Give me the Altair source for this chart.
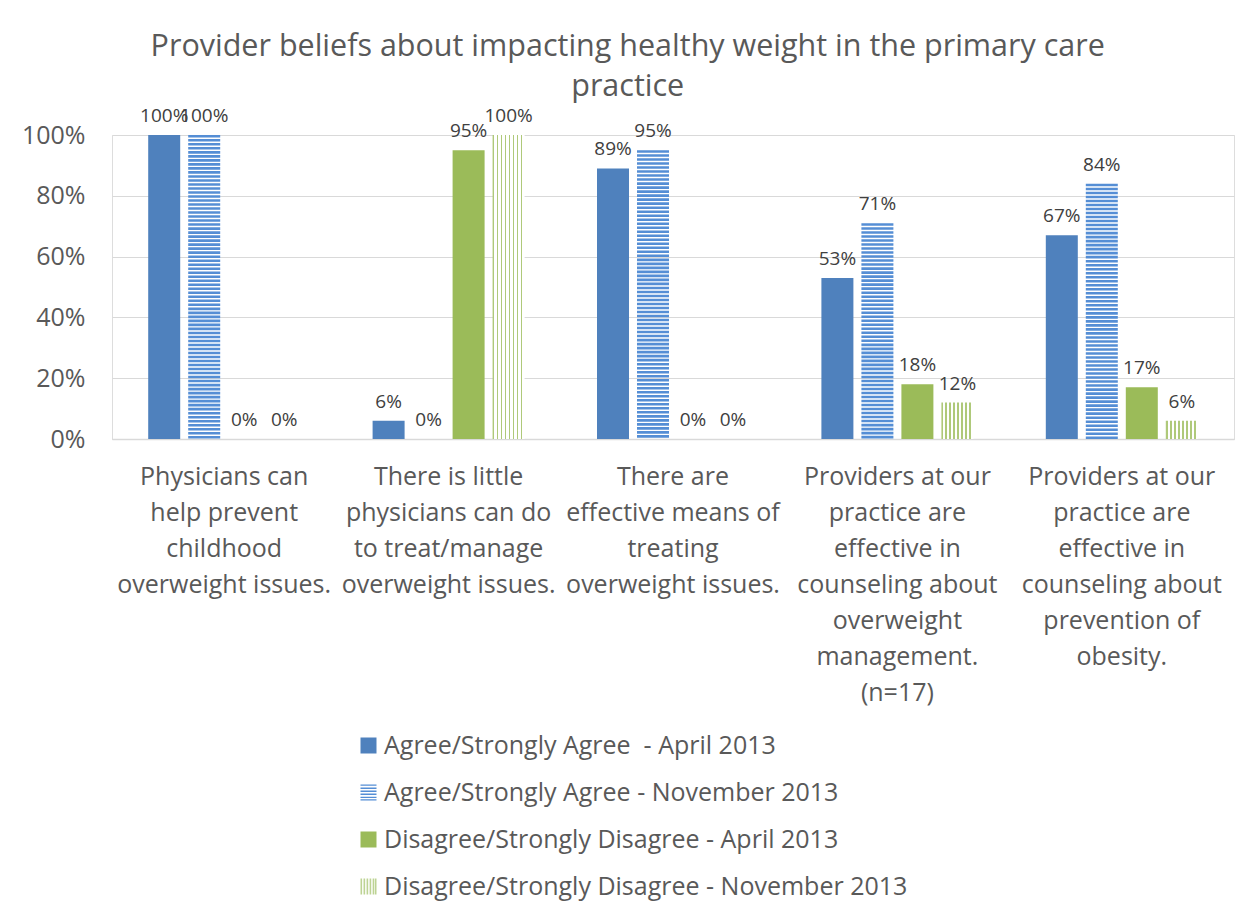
import altair as alt
import pandas as pd

categories = [
    "Physicians can\nhelp prevent\nchildhood\noverweight issues.",
    "There is little\nphysicians can do\nto treat/manage\noverweight issues.",
    "There are\neffective means of\ntreating\noverweight issues.",
    "Providers at our\npractice are\neffective in\ncounseling about\noverweight\nmanagement.\n(n=17)",
    "Providers at our\npractice are\neffective in\ncounseling about\nprevention of\nobesity.",
]
series = [
    "Agree/Strongly Agree \u00a0- April 2013",
    "Agree/Strongly Agree - November 2013",
    "Disagree/Strongly Disagree - April 2013",
    "Disagree/Strongly Disagree - November 2013",
]
agree_apr = [1.00, 0.06, 0.89, 0.53, 0.67]
agree_nov = [1.00, 0.00, 0.95, 0.71, 0.84]
disagree_apr = [0.00, 0.95, 0.00, 0.18, 0.17]
disagree_nov = [0.00, 1.00, 0.00, 0.12, 0.06]

colors = ["#4F81BD", "#558ED5", "#9BBB59", "#BDD394"]

rows = []
for s, vals in zip(series, [agree_apr, agree_nov, disagree_apr, disagree_nov]):
    for c, v in zip(categories, vals):
        rows.append({"category": c, "series": s, "value": v, "label": f"{round(v*100)}%"})
df = pd.DataFrame(rows)

FONT = "Open Sans"
TXT = "#595959"
AX_FS = 25

# legend symbol paths (unit square -1..1)
sq = "M-1,-1H1V1H-1Z"
hstripes = "".join(
    f"M-1,{y:.3f}H1V{y+0.17:.3f}H-1Z" for y in [-1.0, -0.62, -0.24, 0.14, 0.52, 0.83]
)
vstripes = "".join(
    f"M{x:.3f},-1V1H{x+0.2:.3f}V-1Z" for x in [-1.0, -0.62, -0.24, 0.14, 0.52, 0.8]
)
shapes = [sq, hstripes, sq, vstripes]

# vertical stripe gradient for green November bars
stops = []
n = 8
gcol = "#AFC97A"
for i in range(n):
    a = i / n
    b = (i + 0.45) / n
    c = (i + 1) / n
    stops += [
        {"offset": a, "color": gcol},
        {"offset": b, "color": gcol},
        {"offset": b, "color": "#FFFFFF"},
        {"offset": c, "color": "#FFFFFF"},
    ]
vgrad = {"gradient": "linear", "x1": 0, "x2": 1, "y1": 0, "y2": 0, "stops": stops}

xenc = alt.X(
    "category:N",
    sort=categories,
    scale=alt.Scale(paddingInner=0.287, paddingOuter=0.1435),
    axis=alt.Axis(
        title=None,
        labelExpr="split(datum.label, '\\n')",
        labelAngle=0,
        labelFontSize=AX_FS,
        labelFont=FONT,
        labelColor=TXT,
        labelLineHeight=36,
        labelPadding=25,
        labelLimit=0,
        ticks=False,
        domainColor="#D9D9D9",
        domainWidth=1.5,
        labelOverlap=False,
    ),
)
xoff = alt.XOffset(
    "series:N", sort=series, scale=alt.Scale(domain=series, paddingInner=0.2, paddingOuter=0.1)
)
yenc = alt.Y(
    "value:Q",
    scale=alt.Scale(domain=[0, 1], nice=False),
    axis=alt.Axis(
        title=None,
        format=".0%",
        values=[0, 0.2, 0.4, 0.6, 0.8, 1.0],
        labelFontSize=AX_FS,
        labelFont=FONT,
        labelColor=TXT,
        labelPadding=27,
        domain=False,
        ticks=False,
        gridColor="#D9D9D9",
        gridWidth=1.2,
    ),
)

base = alt.Chart(df)

solid_blue = base.mark_bar(color=colors[0]).encode(x=xenc, xOffset=xoff, y=yenc).transform_filter(
    alt.datum.series == series[0]
)
solid_green = base.mark_bar(color=colors[2]).encode(x=xenc, xOffset=xoff, y=yenc).transform_filter(
    alt.datum.series == series[2]
)
hstripe = (
    base.transform_filter(alt.datum.series == series[1])
    .transform_calculate(s="sequence(0, datum.value, 0.0132)")
    .transform_flatten(["s"])
    .transform_calculate(ytop="datum.value - datum.s", ybot="max(datum.value - datum.s - 0.0085, 0)")
    .mark_bar(color=colors[1])
    .encode(x=xenc, xOffset=xoff, y=alt.Y("ytop:Q", scale=alt.Scale(domain=[0, 1], nice=False)), y2="ybot:Q")
)
vstripe = (
    base.transform_filter(alt.datum.series == series[3])
    .mark_bar()
    .encode(x=xenc, xOffset=xoff, y=yenc, color=alt.value(vgrad))
)
labels = base.mark_text(
    dy=-13, baseline="alphabetic", fontSize=19, font=FONT, color="#404040"
).encode(x=xenc, xOffset=xoff, y=yenc, text="label:N")

leg = alt.Legend(
    orient="none",
    legendX=244,
    legendY=598,
    direction="vertical",
    labelFontSize=AX_FS,
    labelFont=FONT,
    labelColor=TXT,
    symbolSize=256,
    symbolStrokeWidth=0,
    rowPadding=21,
    labelOffset=3,
    labelLimit=0,
)

legend_layer = (
    base.transform_filter("false")
    .mark_point(filled=True, opacity=1, strokeWidth=0)
    .encode(
        x=xenc,
        xOffset=xoff,
        y=yenc,
        color=alt.Color("series:N", scale=alt.Scale(domain=series, range=colors), title=None, legend=leg),
        shape=alt.Shape("series:N", scale=alt.Scale(domain=series, range=shapes), title=None, legend=leg),
    )
)

chart = (
    alt.layer(solid_blue, hstripe, solid_green, vstripe, labels, legend_layer)
    .properties(
        width=1122,
        height=304,
        title=alt.Title(
            text=["Provider beliefs about impacting healthy weight in the primary care", "practice"],
            fontSize=30.5,
            font=FONT,
            color=TXT,
            fontWeight="normal",
            anchor="middle",
            frame="bounds",
            lineHeight=40,
            offset=5,
        ),
        autosize=alt.AutoSizeParams(type="none"),
        padding={"left": 112, "top": 135, "right": 16, "bottom": 472},
    )
    .configure_view(strokeWidth=0)
    .configure(background="white")
)

chart.save("out.html", embed_options={"renderer": "svg", "actions": False})
